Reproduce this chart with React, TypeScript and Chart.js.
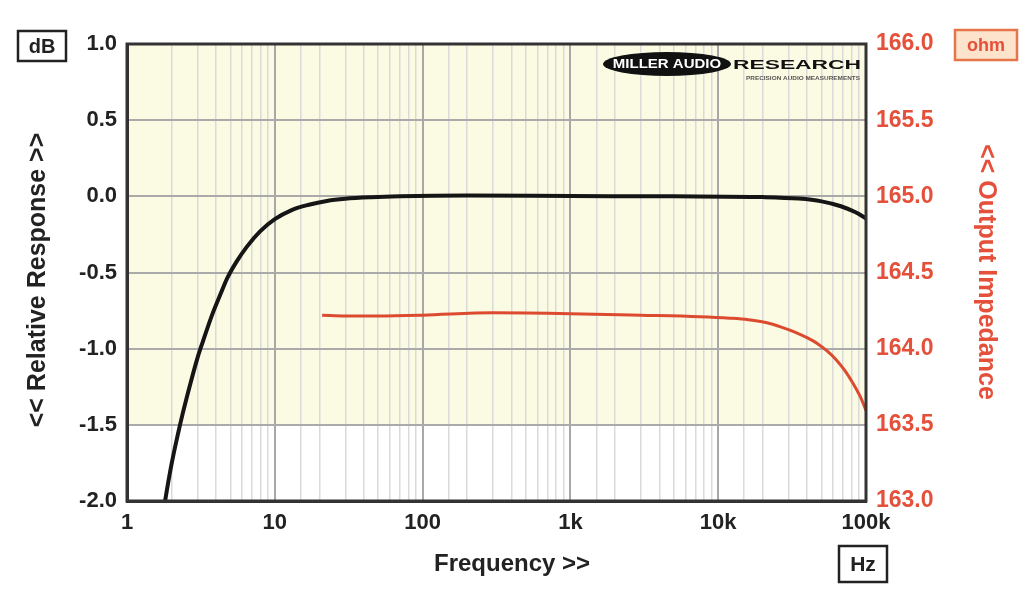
import React, { useEffect, useRef } from "react";
import { Chart, registerables } from "chart.js";

Chart.register(...registerables);

// Frequency response (dB) – black trace
const respFreq = [1.7, 1.81, 2.0, 2.2, 2.39, 2.7, 3.0, 3.27, 3.76, 4.3, 4.75, 5.5, 6.48, 7.95, 10, 13, 17, 22.5, 30, 45, 70, 200, 1000, 5000, 20000, 35000, 50000, 67600, 85000, 100000];
const respDb = [-2.17, -2.0, -1.76, -1.57, -1.42, -1.22, -1.06, -0.95, -0.78, -0.64, -0.54, -0.43, -0.33, -0.23, -0.15, -0.09, -0.055, -0.03, -0.016, -0.006, 0.0, 0.005, 0.002, 0.0, -0.005, -0.015, -0.033, -0.065, -0.105, -0.145];

// Output impedance (ohms) – red trace
const zFreq = [20.9, 30, 50, 100, 300, 1000, 3000, 7500, 12000, 16000, 21400, 27000, 33000, 39900, 47000, 55000, 63000, 72000, 82000, 92000, 100000];
const zOhm = [164.22, 164.215, 164.215, 164.22, 164.235, 164.23, 164.22, 164.21, 164.2, 164.19, 164.17, 164.14, 164.109, 164.072, 164.033, 163.982, 163.926, 163.856, 163.77, 163.68, 163.594];

// Axis ranges / tick labels
const xMin = 1;
const xMax = 100000;
const decadeValues = [1, 10, 100, 1000, 10000, 100000];
const decadeLabels = ["1", "10", "100", "1k", "10k", "100k"];
const dbMin = -2.0;
const dbMax = 1.0;
const ohmMin = 163.0;
const ohmMax = 166.0;

const FONT = '"Liberation Sans", Arial, sans-serif';
const RED = "#e4503a";

function isDecade(v: number) {
  return decadeValues.some((d) => Math.abs(v - d) < 1e-6 * d);
}

const decorPlugin = {
  id: "decor",
  beforeDraw(chart: any) {
    const { ctx, chartArea: a, scales } = chart;
    const yMid = scales.y.getPixelForValue(-1.5);
    ctx.save();
    ctx.fillStyle = "#fbfbe4";
    ctx.fillRect(a.left, a.top, a.right - a.left, yMid - a.top);
    ctx.fillStyle = "#ffffff";
    ctx.fillRect(a.left, yMid, a.right - a.left, a.bottom - yMid);
    ctx.restore();
  },
  afterDraw(chart: any) {
    const { ctx, chartArea: a } = chart;
    ctx.save();
    // frame
    ctx.strokeStyle = "#333";
    ctx.lineWidth = 3;
    ctx.strokeRect(a.left, a.top, a.right - a.left, a.bottom - a.top);

    // dB box
    ctx.lineWidth = 2.5;
    ctx.strokeStyle = "#222";
    ctx.strokeRect(18, 31, 48, 30);
    ctx.fillStyle = "#222";
    ctx.font = `bold 20px ${FONT}`;
    ctx.textAlign = "center";
    ctx.textBaseline = "middle";
    ctx.fillText("dB", 42, 47);

    // ohm box
    ctx.fillStyle = "#fde2cc";
    ctx.fillRect(955, 30, 62, 30);
    ctx.strokeStyle = "#e5764a";
    ctx.strokeRect(955, 30, 62, 30);
    ctx.fillStyle = RED;
    ctx.font = `bold 18px ${FONT}`;
    ctx.fillText("ohm", 986, 46);

    // Hz box
    ctx.strokeStyle = "#222";
    ctx.strokeRect(839, 546, 48, 36);
    ctx.fillStyle = "#222";
    ctx.font = `bold 21px ${FONT}`;
    ctx.fillText("Hz", 863, 565);

    // X title
    ctx.font = `bold 24px ${FONT}`;
    ctx.fillText("Frequency >>", 512, 564);

    // Left title
    ctx.save();
    ctx.translate(38, 280);
    ctx.rotate(-Math.PI / 2);
    ctx.font = `bold 25px ${FONT}`;
    ctx.fillStyle = "#222";
    ctx.fillText("<< Relative Response >>", 0, 0);
    ctx.restore();

    // Right title
    ctx.save();
    ctx.translate(986, 272);
    ctx.rotate(Math.PI / 2);
    ctx.font = `bold 25px ${FONT}`;
    ctx.fillStyle = RED;
    ctx.fillText("<< Output Impedance", 0, 0);
    ctx.restore();

    // Logo
    ctx.fillStyle = "#111";
    ctx.beginPath();
    ctx.ellipse(667, 64, 64, 12, 0, 0, Math.PI * 2);
    ctx.fill();
    ctx.fillStyle = "#fff";
    ctx.font = `bold 12px ${FONT}`;
    ctx.save();
    ctx.translate(667, 65);
    ctx.scale(1.25, 1);
    ctx.fillText("MILLER AUDIO", 0, 0);
    ctx.restore();
    ctx.fillStyle = "#111";
    ctx.font = `bold 13px ${FONT}`;
    ctx.textAlign = "left";
    ctx.save();
    ctx.translate(733, 65);
    const w = ctx.measureText("RESEARCH").width;
    ctx.scale(128 / w, 1);
    ctx.fillText("RESEARCH", 0, 0);
    ctx.restore();
    ctx.fillStyle = "#555";
    ctx.font = `bold 6px ${FONT}`;
    ctx.save();
    ctx.translate(746, 78);
    const w2 = ctx.measureText("PRECISION AUDIO MEASUREMENTS").width;
    ctx.scale(114 / w2, 1);
    ctx.fillText("PRECISION AUDIO MEASUREMENTS", 0, 0);
    ctx.restore();

    ctx.restore();
  },
};

export default function App() {
  const canvasRef = useRef<HTMLCanvasElement | null>(null);

  useEffect(() => {
    if (!canvasRef.current) return;
    const chart = new Chart(canvasRef.current, {
      type: "line",
      data: {
        datasets: [
          {
            label: "Relative Response",
            data: respFreq.map((f, i) => ({ x: f, y: respDb[i] })),
            borderColor: "#151515",
            borderWidth: 4,
            pointRadius: 0,
            cubicInterpolationMode: "monotone",
            yAxisID: "y",
          },
          {
            label: "Output Impedance",
            data: zFreq.map((f, i) => ({ x: f, y: zOhm[i] })),
            borderColor: "#dc4a30",
            borderWidth: 3,
            pointRadius: 0,
            cubicInterpolationMode: "monotone",
            yAxisID: "y2",
          },
        ],
      },
      options: {
        animation: false,
        responsive: false,
        layout: { padding: { top: 44, left: 0, right: 0, bottom: 0 } },
        plugins: { legend: { display: false }, tooltip: { enabled: false } },
        scales: {
          x: {
            type: "logarithmic",
            min: xMin,
            max: xMax,
            afterFit: (s: any) => {
              s.height = 105;
            },
            border: { display: true, color: "#333", width: 3 },
            grid: {
              drawTicks: false,
              color: (c: any) => (c.tick && isDecade(c.tick.value) ? "#a8a8a8" : "#dadada"),
              lineWidth: (c: any) => (c.tick && isDecade(c.tick.value) ? 2 : 1.5),
            },
            ticks: {
              autoSkip: false,
              maxRotation: 0,
              padding: 9,
              color: "#222",
              font: { family: FONT, size: 22, weight: "bold" },
              callback: (v: any) => {
                const idx = decadeValues.findIndex((d) => Math.abs(Number(v) - d) < 1e-6 * d);
                return idx >= 0 ? decadeLabels[idx] : "";
              },
            },
          },
          y: {
            type: "linear",
            position: "left",
            min: dbMin,
            max: dbMax,
            afterFit: (s: any) => {
              s.width = 127;
            },
            border: { display: true, color: "#333", width: 3 },
            grid: { drawTicks: false, color: "#aaaaaa", lineWidth: 2 },
            ticks: {
              stepSize: 0.5,
              padding: 10,
              color: "#222",
              font: { family: FONT, size: 22, weight: "bold" },
              callback: (v: any) => Number(v).toFixed(1),
            },
          },
          y2: {
            type: "linear",
            position: "right",
            min: ohmMin,
            max: ohmMax,
            afterFit: (s: any) => {
              s.width = 158;
            },
            border: { display: false },
            grid: { drawOnChartArea: false, drawTicks: false },
            ticks: {
              stepSize: 0.5,
              padding: 10,
              color: RED,
              font: { family: FONT, size: 23, weight: "bold" },
              callback: (v: any) => Number(v).toFixed(1),
            },
          },
        },
      } as any,
      plugins: [decorPlugin],
    });
    return () => chart.destroy();
  }, []);

  return (
    <div style={{ position: "absolute", left: 0, top: 0, width: 1024, height: 606, background: "#fff" }}>
      <canvas ref={canvasRef} width={1024} height={606} />
    </div>
  );
}
